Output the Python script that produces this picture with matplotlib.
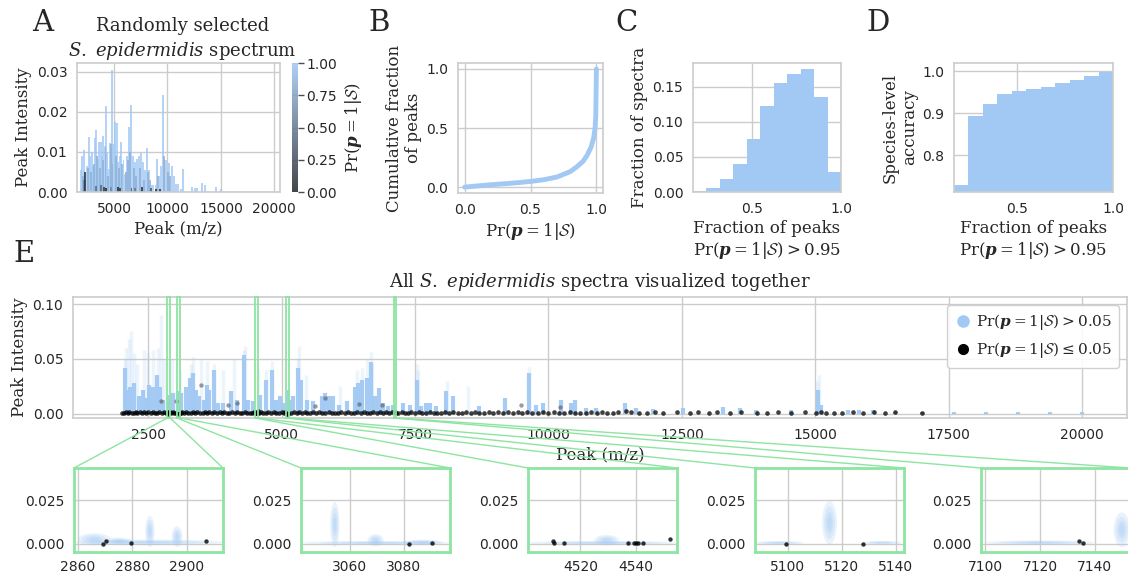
import numpy as np
import matplotlib
matplotlib.use("Agg")
import matplotlib.pyplot as plt
import seaborn as sns
from matplotlib.patches import Rectangle, Ellipse, ConnectionPatch
from matplotlib.lines import Line2D
from matplotlib.cm import ScalarMappable
from matplotlib.colors import Normalize
from matplotlib.ticker import FormatStrFormatter

# ---- panel A: one spectrum (m/z, intensity, Pr(p=1|S))
a_mz = [1940, 2030, 2160, 2310, 2470, 2630, 2780, 2910, 3030, 3190,
        3340, 3470, 3590, 3750, 3880, 4000, 4130, 4250, 4380, 4500,
        4590, 4780, 4940, 5090, 5280, 5410, 5530, 5690, 5880, 6030,
        6190, 6380, 6590, 6780, 6970, 7160, 7310, 7500, 7690, 7880,
        8090, 8280, 8500, 8660, 8910, 9060, 9250, 9410, 9560, 9750,
        9910, 10160, 10380, 10590, 10780, 10940, 11250, 11470, 12310, 12560,
        12780, 13250, 13500, 14500, 14970,
        2100, 2550, 2850, 3100, 3400, 3650, 3950, 4200, 4450, 4680,
        4850, 5180, 5480, 5780, 6100, 6280, 6480, 6880, 7060, 7400,
        7800, 8180, 8380, 9150, 9650, 10050, 10270,
        2250, 3810, 4060, 4250, 5380, 5590, 6630, 7590, 8470, 8910,
        9280, 7000, 4700, 2200, 3300]
a_int = [0.0056, 0.0091, 0.0104, 0.0033, 0.0066, 0.0138, 0.0091, 0.0099, 0.0066, 0.0136,
         0.0156, 0.0083, 0.0126, 0.0126, 0.0091, 0.0141, 0.0116, 0.0215, 0.0098, 0.0058,
         0.0123, 0.0305, 0.0120, 0.0174, 0.0172, 0.0075, 0.0091, 0.0126, 0.0079, 0.0046,
         0.0091, 0.0162, 0.0217, 0.0091, 0.0075, 0.0083, 0.0091, 0.0098, 0.0076, 0.0054,
         0.0110, 0.0054, 0.0018, 0.0018, 0.0017, 0.0083, 0.0041, 0.0066, 0.0242, 0.0079,
         0.0079, 0.0073, 0.0065, 0.0041, 0.0021, 0.0021, 0.0008, 0.0058, 0.0012, 0.0010,
         0.0010, 0.0022, 0.0017, 0.0012, 0.0007,
         0.0040, 0.0060, 0.0050, 0.0070, 0.0090, 0.0060, 0.0080, 0.0110, 0.0040, 0.0120,
         0.0070, 0.0090, 0.0060, 0.0070, 0.0050, 0.0080, 0.0100, 0.0060, 0.0040, 0.0060,
         0.0030, 0.0050, 0.0030, 0.0040, 0.0090, 0.0050, 0.0040,
         0.0050, 0.0018, 0.0012, 0.0010, 0.0012, 0.0010, 0.0010, 0.0012, 0.0010, 0.0008,
         0.0008, 0.0010, 0.0012, 0.0030, 0.0015]
a_prob = [1.0] * 65 + [0.85] * 27 + [0.05, 0.4, 0.1, 0.0, 0.05, 0.1, 0.3, 0.05, 0.3, 0.0,
                                     0.05, 0.5, 0.6, 0.55, 0.45]

# ---- panel B: cumulative fraction of peaks vs Pr(p=1|S)
b_pr = [0.0, 0.1, 0.2, 0.3, 0.4, 0.5, 0.6, 0.7, 0.8, 0.85, 0.9, 0.93, 0.96, 0.98, 0.99, 0.995, 1.0]
b_cum = [0.0, 0.010, 0.020, 0.028, 0.037, 0.048, 0.062, 0.085, 0.13, 0.17, 0.22, 0.27, 0.34, 0.42, 0.50, 0.60, 1.0]

# ---- panels C and D: binned by fraction of peaks with Pr > 0.95
bin_lo, bin_hi = 0.17, 1.0
c_frac_spectra = [0.001, 0.006, 0.019, 0.040, 0.076, 0.122, 0.156, 0.168, 0.175, 0.136, 0.029]
d_accuracy = [0.730, 0.893, 0.923, 0.947, 0.954, 0.959, 0.963, 0.972, 0.980, 0.990, 0.998]

# ---- panel E: all spectra
e_mz = [2062, 2113, 2156, 2231, 2331, 2406, 2456, 2519, 2594, 2669,
        2731, 2781, 2886, 2897, 2969, 3054, 3125, 3219, 3294, 3344,
        3406, 3456, 3544, 3594, 3644, 3731, 3813, 3906, 4044, 4156,
        4300, 4375, 4469, 4594, 4700, 4819, 4894, 4969, 5044, 5115,
        5156, 5219, 5313, 5356, 5469, 5594, 5750, 5813, 5894, 5969,
        6081, 6219, 6375, 6425, 6500, 6594, 6669, 6750, 6831, 6906,
        7000, 7094, 7281, 7406, 7531, 7612, 7706, 7781, 7894, 8081,
        8219, 8706, 9194, 9631, 9769, 9906, 10237, 10425, 10506, 10706,
        10894, 11425, 11644, 11956, 12519, 13269, 13581, 13894, 14544, 15044,
        15106, 15606, 15825, 16075, 16500, 17000, 17600, 18200, 18800, 19400,
        20000]
e_int = [0.0415, 0.0218, 0.0248, 0.0279, 0.0158, 0.0218, 0.0142, 0.0264, 0.0248, 0.0355,
         0.0248, 0.0127, 0.0170, 0.0110, 0.0188, 0.0210, 0.0188, 0.0248, 0.0324, 0.0370,
         0.0218, 0.0158, 0.0127, 0.0264, 0.0218, 0.0400, 0.0097, 0.0097, 0.0203, 0.0127,
         0.0536, 0.0127, 0.0112, 0.0173, 0.0309, 0.0400, 0.0127, 0.0158, 0.0097, 0.0220,
         0.0127, 0.0158, 0.0415, 0.0309, 0.0127, 0.0112, 0.0158, 0.0188, 0.0158, 0.0158,
         0.0082, 0.0112, 0.0248, 0.0279, 0.0309, 0.0324, 0.0476, 0.0158, 0.0233, 0.0097,
         0.0067, 0.0082, 0.0097, 0.0082, 0.0309, 0.0067, 0.0097, 0.0097, 0.0067, 0.0203,
         0.0158, 0.0067, 0.0142, 0.0370, 0.0082, 0.0097, 0.0127, 0.0097, 0.0127, 0.0052,
         0.0052, 0.0097, 0.0052, 0.0042, 0.0052, 0.0061, 0.0052, 0.0036, 0.0036, 0.0218,
         0.0082, 0.0036, 0.0036, 0.0036, 0.0020, 0.0020, 0.0015, 0.0015, 0.0015, 0.0015,
         0.0015]
faint_mz = [2062, 2090, 2140, 2175, 2240, 2300, 2420, 2500, 2600, 2680,
            2750, 2800, 2950, 3100, 3300, 3350, 3500, 3600, 3730, 3900,
            4100, 4300, 4310, 4560, 4700, 4820, 5300, 5320, 5450, 6100,
            6420, 6500, 6600, 6670, 6700, 7540, 7560, 8100, 8500, 9640,
            15040, 15060]
faint_int = [0.050, 0.060, 0.068, 0.075, 0.055, 0.045, 0.058, 0.055, 0.058, 0.060,
             0.090, 0.050, 0.050, 0.040, 0.045, 0.052, 0.050, 0.048, 0.045, 0.040,
             0.050, 0.058, 0.062, 0.040, 0.040, 0.048, 0.050, 0.062, 0.035, 0.025,
             0.040, 0.042, 0.050, 0.056, 0.045, 0.045, 0.040, 0.030, 0.025, 0.043,
             0.030, 0.035]
gray_mz = [2750, 3019, 3500, 4000, 4156, 5625, 5812, 6450, 6875, 9494, 10220]
gray_int = [0.012, 0.012, 0.026, 0.008, 0.0097, 0.0067, 0.014, 0.0088, 0.0076, 0.008, 0.006]
low_mz = [2010, 2045, 2080, 2120, 2150, 2190, 2230, 2265, 2300, 2345,
          2380, 2420, 2460, 2500, 2545, 2590, 2630, 2670, 2710, 2760,
          2800, 2840, 2930, 2960, 2990, 3030, 3110, 3140, 3170, 3210,
          3250, 3300, 3340, 3380, 3420, 3470, 3520, 3560, 3600, 3650,
          3700, 3740, 3790, 3840, 3880, 3930, 3980, 4020, 4070, 4120,
          4170, 4220, 4260, 4310, 4360, 4400, 4450, 4480, 4580, 4620,
          4660, 4700, 4750, 4800, 4850, 4900, 4950, 5000, 5040, 5070,
          5180, 5230, 5280, 5330, 5380, 5430, 5480, 5530, 5580, 5640,
          5700, 5760, 5820, 5880, 5940, 6000, 6060, 6120, 6180, 6240,
          6300, 6360, 6420, 6480, 6540, 6600, 6660, 6720, 6780, 6840,
          6900, 6960, 7020, 7060, 7190, 7250, 7310, 7370, 7430, 7500,
          7570, 7640, 7710, 7780, 7850, 7920, 7990, 8060, 8140, 8220,
          8300, 8380, 8460, 8540, 8620, 8700, 8790, 8880, 8970, 9060,
          9150, 9240, 9330, 9420, 9510, 9600, 9700, 9800, 9900, 10000,
          10100, 10200, 10300, 10400, 10500, 10600, 10700, 10800, 10900, 11000,
          11100, 11200, 11300, 11456, 11550, 11700, 11850, 12000, 12150, 12400,
          12650, 12800, 13000, 13150, 13400, 13600, 13900, 14100, 14300, 14550,
          14800, 15020, 15100, 15200, 15350, 15500, 15700, 15900, 16100, 16300,
          16500, 17000]
low_int = [0.0010, 0.0006, 0.0014, 0.0008, 0.0012, 0.0005, 0.0011, 0.0016, 0.0007, 0.0013,
           0.0009, 0.0015, 0.0006, 0.0012, 0.0010, 0.0018, 0.0007, 0.0011, 0.0014, 0.0008,
           0.0012, 0.0006, 0.0010, 0.0015, 0.0008, 0.0011, 0.0007, 0.0013, 0.0009, 0.0016,
           0.0010, 0.0006, 0.0014, 0.0008, 0.0012, 0.0005, 0.0011, 0.0016, 0.0007, 0.0013,
           0.0009, 0.0015, 0.0006, 0.0012, 0.0010, 0.0018, 0.0007, 0.0011, 0.0014, 0.0008,
           0.0012, 0.0006, 0.0010, 0.0015, 0.0008, 0.0011, 0.0007, 0.0013, 0.0009, 0.0016,
           0.0010, 0.0006, 0.0014, 0.0008, 0.0012, 0.0005, 0.0011, 0.0016, 0.0007, 0.0013,
           0.0009, 0.0015, 0.0006, 0.0012, 0.0010, 0.0018, 0.0007, 0.0011, 0.0014, 0.0008,
           0.0012, 0.0006, 0.0010, 0.0015, 0.0008, 0.0011, 0.0007, 0.0013, 0.0009, 0.0016,
           0.0010, 0.0006, 0.0014, 0.0008, 0.0012, 0.0005, 0.0011, 0.0016, 0.0007, 0.0013,
           0.0009, 0.0015, 0.0006, 0.0012, 0.0010, 0.0018, 0.0007, 0.0011, 0.0014, 0.0008,
           0.0012, 0.0006, 0.0010, 0.0015, 0.0008, 0.0011, 0.0007, 0.0013, 0.0009, 0.0016,
           0.0010, 0.0006, 0.0014, 0.0008, 0.0012, 0.0005, 0.0011, 0.0016, 0.0007, 0.0013,
           0.0009, 0.0015, 0.0006, 0.0012, 0.0010, 0.0018, 0.0007, 0.0011, 0.0014, 0.0008,
           0.0012, 0.0006, 0.0010, 0.0015, 0.0008, 0.0011, 0.0007, 0.0013, 0.0009, 0.0016,
           0.0010, 0.0006, 0.0014, 0.0025, 0.0012, 0.0005, 0.0011, 0.0016, 0.0007, 0.0013,
           0.0009, 0.0015, 0.0006, 0.0012, 0.0010, 0.0018, 0.0007, 0.0011, 0.0014, 0.0008,
           0.0012, 0.0010, 0.0015, 0.0008, 0.0011, 0.0007, 0.0013, 0.0009, 0.0016, 0.0010,
           0.0012, 0.0010]
# low-probability peaks inside the zoom windows
zoom_low_mz = [2869.4, 2870.4, 2879.7, 2907.2, 3082.0, 3090.5, 4510.0, 4510.5, 4513.9, 4537.4,
               4539.3, 4540.3, 4541.0, 4542.6, 4552.4, 5099.6, 5127.8, 7134.2, 7135.9]
zoom_low_int = [-0.0004, 0.0018, 0.0004, 0.0018, 0.0000, 0.0004, 0.0015, 0.0004, 0.0003, 0.0004,
                0.0004, 0.0004, 0.0004, 0.0004, 0.0026, 0.0000, -0.0004, 0.0018, 0.0004]
# high-probability point clouds seen in the zoom windows (centre, spread)
cloud_mz = [2886, 2866, 2886.5, 2896.5, 2875, 3070, 3054.5, 3069.5, 3087, 4528,
            4529.5, 5097, 5135, 5115.5, 7120, 7150]
cloud_int = [0.0008, 0.0025, 0.007, 0.004, 0.0015, 0.0005, 0.011, 0.002, 0.0008, 0.0005,
             0.002, 0.0005, 0.0006, 0.012, 0.0006, 0.008]
cloud_dmz = [56, 12, 3.5, 4, 10, 56, 3.5, 6, 14, 56, 9, 18, 14, 5.5, 40, 6]
cloud_dint = [0.003, 0.007, 0.018, 0.012, 0.004, 0.002, 0.026, 0.007, 0.003, 0.002,
              0.006, 0.002, 0.002, 0.025, 0.0025, 0.02]
zoom_windows = [(2858.6, 2913.4), (3042, 3097), (4501, 4555), (5088, 5143), (7098.4, 7153)]

BLUE = '#a1c9f4'
GREEN = '#8de5a1'
SERIF = 'DejaVu Serif'
PR = r'\Pr(\boldsymbol{p} = 1|\mathcal{S})'

sns.set_style("whitegrid")
plt.rcParams['font.family'] = 'DejaVu Sans'
plt.rcParams['mathtext.fontset'] = 'custom'
plt.rcParams['mathtext.rm'] = 'DejaVu Serif'
plt.rcParams['mathtext.it'] = 'DejaVu Serif:italic'
plt.rcParams['mathtext.bf'] = 'DejaVu Serif:bold'
plt.rcParams['mathtext.bfit'] = 'DejaVu Serif:italic:bold'
plt.rcParams['mathtext.cal'] = 'cmsy10'
plt.rcParams['xtick.labelsize'] = 10
plt.rcParams['ytick.labelsize'] = 10
plt.rcParams['axes.linewidth'] = 1.2
plt.rcParams['grid.linewidth'] = 1.0

W, H = 1128, 575
fig = plt.figure(figsize=(W / 100, H / 100), dpi=100)


def px(l, t, r, b):
    return [l / W, 1 - b / H, (r - l) / W, (b - t) / H]


def lab(ax, xl=None, yl=None, size=12):
    if xl is not None:
        ax.set_xlabel(xl, family=SERIF, size=size, labelpad=3)
    if yl is not None:
        ax.set_ylabel(yl, family=SERIF, size=size, labelpad=3)


# ---------------- A
cmap = sns.dark_palette(BLUE, as_cmap=True)
axA = fig.add_axes(px(77, 63, 280, 192))
order = np.argsort(-np.array(a_prob), kind='stable')
axA.bar(np.array(a_mz)[order], np.array(a_int)[order], width=180,
        color=cmap(np.array(a_prob)[order]), alpha=0.8, linewidth=0)
axA.set_xlim(1530, 20530)
axA.set_ylim(0, 0.0322)
axA.set_xticks([5000, 10000, 15000, 20000])
axA.set_yticks([0, 0.01, 0.02, 0.03])
axA.yaxis.set_major_formatter(FormatStrFormatter('%.2f'))
axA.set_axisbelow(True)
lab(axA, 'Peak (m/z)', 'Peak Intensity')
axA.set_title('Randomly selected\n$\\mathit{S.\\ epidermidis}$ spectrum',
              family=SERIF, size=13, pad=5, linespacing=1.3, x=0.52)

cax = fig.add_axes(px(292, 63, 298, 192))
cb = fig.colorbar(ScalarMappable(norm=Normalize(0, 1), cmap=cmap), cax=cax, alpha=0.85)
cb.set_ticks([0, 0.25, 0.5, 0.75, 1.0])
cb.ax.yaxis.set_major_formatter(FormatStrFormatter('%.2f'))
cb.outline.set_visible(False)
cax.tick_params(length=4, width=1, color='0.3', labelsize=10, pad=2)
cb.set_label('$' + PR + '$', size=12, labelpad=4)

# ---------------- B
axB = fig.add_axes(px(458, 63, 603, 193))
axB.plot(b_pr, b_cum, color=BLUE, lw=3.5, solid_capstyle='round')
axB.set_xticks([0, 0.5, 1.0])
axB.set_yticks([0, 0.5, 1.0])
lab(axB, '$' + PR + '$', 'Cumulative fraction\nof peaks')

# ---------------- C and D
edges = np.linspace(bin_lo, bin_hi, len(c_frac_spectra) + 1)
bw = edges[1] - edges[0]
axC = fig.add_axes(px(693, 63, 841, 192))
axC.bar(edges[:-1], c_frac_spectra, width=bw, align='edge', color=BLUE, linewidth=0)
axC.set_xlim(bin_lo, bin_hi)
axC.set_ylim(0, 0.184)
axC.set_xticks([0.5, 1.0])
axC.set_yticks([0, 0.05, 0.10, 0.15])
axC.yaxis.set_major_formatter(FormatStrFormatter('%.2f'))
axC.set_axisbelow(True)
lab(axC, 'Fraction of peaks\n$' + PR + ' > 0.95$', 'Fraction of spectra')

axD = fig.add_axes(px(954, 63, 1113, 192))
axD.bar(edges[:-1], d_accuracy, width=bw, align='edge', color=BLUE, linewidth=0)
axD.set_xlim(bin_lo, bin_hi)
axD.set_ylim(0.713, 1.02)
axD.set_xticks([0.5, 1.0])
axD.set_yticks([0.8, 0.9, 1.0])
axD.set_axisbelow(True)
lab(axD, 'Fraction of peaks\n$' + PR + ' > 0.95$', 'Species-level\naccuracy')

# ---------------- E
axE = fig.add_axes(px(73, 297, 1127, 418))
axE.vlines(faint_mz, 0, faint_int, color=BLUE, lw=2.5, alpha=0.2, zorder=2)
axE.vlines(e_mz, 0, e_int, color=BLUE, lw=3, alpha=0.95, zorder=2)
axE.scatter(gray_mz, gray_int, s=10, color='0.35', alpha=0.6, linewidths=0, zorder=3)
axE.scatter(low_mz + zoom_low_mz, low_int + zoom_low_int, s=11, color='black',
            alpha=0.75, linewidths=0, zorder=3)
yE0, yE1 = -0.0039, 0.1064
axE.set_xlim(1093, 20838)
axE.set_ylim(yE0, yE1)
axE.set_xticks(np.arange(2500, 20001, 2500))
axE.set_yticks([0, 0.05, 0.10])
axE.yaxis.set_major_formatter(FormatStrFormatter('%.2f'))
axE.set_axisbelow(True)
lab(axE, 'Peak (m/z)', 'Peak Intensity')
axE.set_title('All $\\mathit{S.\\ epidermidis}$ spectra visualized together',
              family=SERIF, size=13, pad=7)
handles = [Line2D([], [], marker='o', ls='', color=BLUE, markersize=8),
           Line2D([], [], marker='o', ls='', color='black', markersize=7)]
axE.legend(handles, ['$' + PR + ' > 0.05$', '$' + PR + ' \\leq 0.05$'],
           loc='upper right', prop={'size': 11}, handletextpad=0.2,
           handlelength=1.2, borderpad=0.5, framealpha=0.9)

# ---------------- zoom windows
inset_left = [74, 301, 528, 755, 981]
for (x0, x1), left in zip(zoom_windows, inset_left):
    ax = fig.add_axes(px(left, 468, left + 149, 552))
    for cx, cy, dx, dy in zip(cloud_mz, cloud_int, cloud_dmz, cloud_dint):
        for k in (1.0, 0.75, 0.5, 0.3):
            ax.add_patch(Ellipse((cx, cy), dx * k, dy * k, color=BLUE,
                                 alpha=0.22, linewidth=0, zorder=2))
    ax.scatter(zoom_low_mz, zoom_low_int, s=10, color='black', alpha=0.8,
               linewidths=0, zorder=3)
    ax.set_xlim(x0, x1)
    ax.set_ylim(-0.0048, 0.0435)
    ax.xaxis.set_major_locator(plt.MultipleLocator(20))
    ax.set_yticks([0, 0.025])
    ax.yaxis.set_major_formatter(FormatStrFormatter('%.3f'))
    ax.tick_params(axis='x', pad=2)
    ax.set_axisbelow(True)
    for sp in ax.spines.values():
        sp.set_edgecolor(GREEN)
        sp.set_linewidth(2)
    axE.add_patch(Rectangle((x0, yE0), x1 - x0, yE1 - yE0, fill=False,
                            edgecolor=GREEN, lw=1.3, clip_on=False, zorder=5))
    for xa, xb in ((x0, 0), (x1, 1)):
        fig.add_artist(ConnectionPatch(xyA=(xa, yE0), coordsA=axE.transData,
                                       xyB=(xb, 1), coordsB=ax.transAxes,
                                       color=GREEN, lw=1))

# ---------------- panel letters
for letter, x, y in (('A', 32, 9), ('B', 368, 9), ('C', 615, 9), ('D', 866, 9), ('E', 13, 240)):
    fig.text(x / W, 1 - y / H, letter, ha='left', va='top', size=21, family=SERIF)

fig.savefig('out.png', dpi=100)
